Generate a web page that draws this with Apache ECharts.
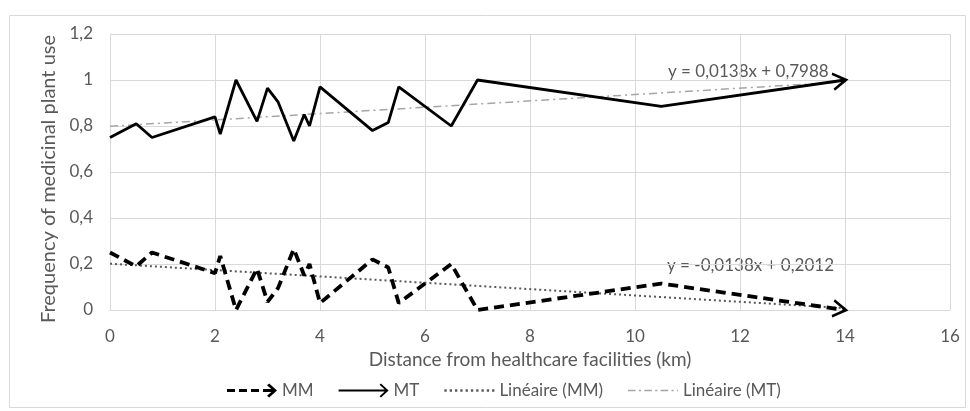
<!DOCTYPE html>
<html>
<head>
<meta charset="utf-8">
<script src="https://cdn.jsdelivr.net/npm/echarts@6/dist/echarts.min.js"></script>
<style>
html,body{margin:0;padding:0;background:#fff;}
#main{width:970px;height:411px;}
</style>
</head>
<body>
<div id="main"></div>
<script>
// ---- data ----
const distances = [0, 0.5, 0.8, 2, 2.1, 2.4, 2.8, 3.0, 3.2, 3.5, 3.7, 3.8, 4.0, 5.0, 5.3, 5.5, 6.5, 7.0, 10.5, 14];
const mtValues  = [0.75, 0.81, 0.75, 0.84, 0.765, 1.0, 0.82, 0.965, 0.905, 0.735, 0.85, 0.80, 0.97, 0.78, 0.815, 0.97, 0.80, 1.0, 0.885, 1.0];
const mmValues  = [0.25, 0.19, 0.25, 0.16, 0.235, 0.0, 0.18, 0.035, 0.095, 0.265, 0.15, 0.20, 0.03, 0.22, 0.185, 0.03, 0.20, 0.0, 0.115, 0.0];
const trendMM = [[0, 0.2012], [14, 0.008]];
const trendMT = [[0, 0.7988], [14, 0.992]];
const eqMM = 'y = -0,0138x + 0,2012';
const eqMT = 'y = 0,0138x + 0,7988';
const seriesNames = ['MM', 'MT', 'Linéaire (MM)', 'Linéaire (MT)'];
const xTicks = {min: 0, max: 16, interval: 2};
const yTicks = {min: 0, max: 1.2, interval: 0.2};
const xTitle = 'Distance from healthcare facilities (km)';
const yTitle = 'Frequency of medicinal plant use';

// ---- styles ----
const FONT = 'Lato, "Open Sans", sans-serif';
const TXT = '#595959';
const GRID = '#d9d9d9';
const ARROW = 'path://M0,0 L10,6 L0,12';
const ARROW_W = 13;
const iconMM = 'path://M0,5.5 L8,5.5 L8,8.5 L0,8.5 Z M12,5.5 L20,5.5 L20,8.5 L12,8.5 Z M24,5.5 L32,5.5 L32,8.5 L24,8.5 Z M36,5.5 L46,5.5 L46,8.5 L36,8.5 Z M40,1.8 L42.2,0 L50,7 L42.2,14 L40,12.2 L46,7 Z';
const iconMT = 'path://M0,6 L47,6 L47,8 L0,8 Z M41,1.2 L42.4,0 L50,7 L42.4,14 L41,12.8 L47.2,7 Z';
function dashIcon(pattern, h, w) {
  let x = 0, i = 0, d = '';
  while (x < w) {
    const len = Math.min(pattern[i % pattern.length], w - x);
    if (i % 2 === 0 && len > 0) d += 'M' + x + ',0 L' + (x + len) + ',0 L' + (x + len) + ',' + h + ' L' + x + ',' + h + ' Z ';
    x += pattern[i % pattern.length];
    i++;
  }
  return 'path://' + d;
}
const iconLinMM = dashIcon([2, 2.6], 2, 46);
const iconLinMT = dashIcon([7, 3, 2, 3], 1.5, 46);

function buildData(xs, ys, rot) {
  const a = rot * Math.PI / 180;
  return xs.map((x, i) => {
    const item = {value: [x, ys[i]]};
    if (i === xs.length - 1) {
      item.symbol = ARROW;
      item.symbolSize = [ARROW_W, 16];
      item.symbolRotate = rot;
      item.symbolOffset = [-(ARROW_W / 2 - 1) * Math.cos(a), (ARROW_W / 2 - 1) * Math.sin(a)];
      item.itemStyle = {color: 'transparent', borderColor: '#000', borderWidth: 2.5};
    } else {
      item.symbol = 'none';
    }
    return item;
  });
}

const chart = echarts.init(document.getElementById('main'), null, {renderer: 'canvas'});

function makeOption(rotMM, rotMT) {
  return {
    backgroundColor: '#fff',
    animation: false,
    textStyle: {fontFamily: FONT},
    graphic: [
      {type: 'rect', left: 7, top: 13, shape: {width: 956, height: 392}, style: {fill: 'none', stroke: GRID, lineWidth: 1}, silent: true, z: -10},
      {type: 'text', left: 668, top: 63, style: {text: eqMT, fill: TXT, font: '17px ' + FONT}},
      {type: 'text', left: 667, top: 257, style: {text: eqMM, fill: TXT, font: '17px ' + FONT}}
    ],
    grid: {left: 110, right: 20, top: 34, bottom: 101},
    legend: {
      top: 377,
      left: 222,
      itemWidth: 50,
      itemHeight: 14,
      itemGap: 25,
      symbolKeepAspect: true,
      textStyle: {color: TXT, fontSize: 17, fontFamily: FONT},
      data: [
        {name: seriesNames[0], icon: iconMM},
        {name: seriesNames[1], icon: iconMT},
        {name: seriesNames[2], icon: iconLinMM},
        {name: seriesNames[3], icon: iconLinMT}
      ]
    },
    xAxis: {
      type: 'value',
      min: xTicks.min, max: xTicks.max, interval: xTicks.interval,
      name: xTitle, nameLocation: 'middle', nameGap: 40,
      nameTextStyle: {color: TXT, fontSize: 19, fontFamily: FONT},
      axisLine: {show: true, lineStyle: {color: GRID, width: 1}},
      axisTick: {show: false},
      axisLabel: {color: TXT, fontSize: 17, margin: 18, fontFamily: FONT},
      splitLine: {show: true, lineStyle: {color: GRID, width: 1}}
    },
    yAxis: {
      type: 'value',
      min: yTicks.min, max: yTicks.max, interval: yTicks.interval,
      name: yTitle, nameLocation: 'middle', nameGap: 49,
      nameTextStyle: {color: TXT, fontSize: 20, fontFamily: FONT, padding: [0, 14, 0, 0]},
      axisLine: {show: true, lineStyle: {color: GRID, width: 1}},
      axisTick: {show: false},
      axisLabel: {color: TXT, fontSize: 17, margin: 17, fontFamily: FONT,
        formatter: v => String(Math.round(v * 10) / 10).replace('.', ',')},
      splitLine: {show: true, lineStyle: {color: GRID, width: 1}}
    },
    series: [
      {
        name: seriesNames[0], type: 'line', z: 4,
        data: buildData(distances, mmValues, rotMM),
        itemStyle: {color: '#000'},
        lineStyle: {color: '#000', width: 3.8, type: [10, 6]},
        showSymbol: true
      },
      {
        name: seriesNames[1], type: 'line', z: 4,
        data: buildData(distances, mtValues, rotMT),
        itemStyle: {color: '#000'},
        lineStyle: {color: '#000', width: 2.8, type: 'solid'},
        showSymbol: true
      },
      {
        name: seriesNames[2], type: 'line', z: 3, symbol: 'none',
        data: trendMM,
        itemStyle: {color: '#595959'},
        lineStyle: {color: '#595959', width: 2, type: [2, 3]}
      },
      {
        name: seriesNames[3], type: 'line', z: 3, symbol: 'none',
        data: trendMT,
        itemStyle: {color: '#a6a6a6'},
        lineStyle: {color: '#a6a6a6', width: 1.5, type: [8, 4, 2, 4]}
      }
    ]
  };
}

chart.setOption(makeOption(0, 0));
function angleOf(xs, ys) {
  const n = xs.length;
  const p1 = chart.convertToPixel({gridIndex: 0}, [xs[n - 2], ys[n - 2]]);
  const p2 = chart.convertToPixel({gridIndex: 0}, [xs[n - 1], ys[n - 1]]);
  return Math.atan2(-(p2[1] - p1[1]), p2[0] - p1[0]) * 180 / Math.PI;
}
chart.setOption(makeOption(angleOf(distances, mmValues), angleOf(distances, mtValues)));
</script>
</body>
</html>
